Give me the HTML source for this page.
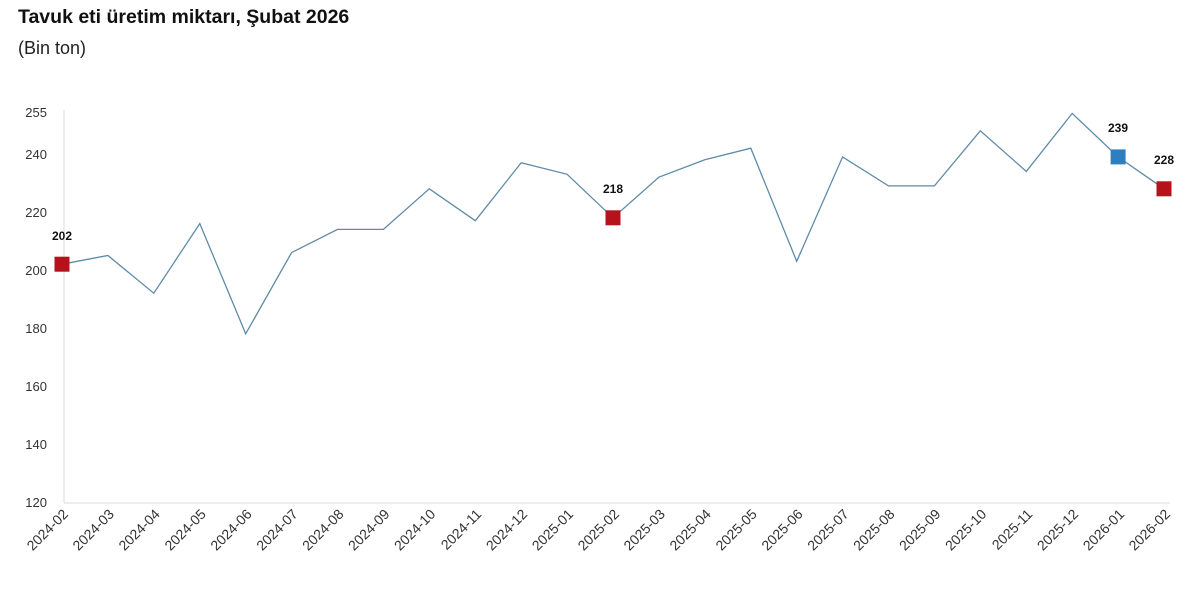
<!DOCTYPE html>
<html><head><meta charset="utf-8"><style>
body{margin:0;background:#fff;width:1200px;height:587px;overflow:hidden;font-family:"Liberation Sans",sans-serif}
</style></head><body>
<svg width="1200" height="587" xmlns="http://www.w3.org/2000/svg" font-family="Liberation Sans, sans-serif">
<text x="18" y="23" font-size="19.5" font-weight="bold" fill="#111">Tavuk eti üretim miktarı, Şubat 2026</text>
<text x="18" y="54" font-size="18" fill="#222">(Bin ton)</text>
<line x1="64" y1="110" x2="64" y2="503" stroke="#ddd"/>
<line x1="64" y1="503" x2="1170" y2="503" stroke="#ddd"/>
<g font-size="13" fill="#333" text-anchor="end">
<text x="47" y="117">255</text><text x="47" y="159">240</text><text x="47" y="217">220</text><text x="47" y="275">200</text><text x="47" y="333">180</text><text x="47" y="391">160</text><text x="47" y="449">140</text><text x="47" y="507">120</text>
</g>
<g font-size="14" fill="#333" text-anchor="end">
<text transform="translate(69,515) rotate(-45)">2024-02</text>
<text transform="translate(114.9,515) rotate(-45)">2024-03</text>
<text transform="translate(160.8,515) rotate(-45)">2024-04</text>
<text transform="translate(206.8,515) rotate(-45)">2024-05</text>
<text transform="translate(252.7,515) rotate(-45)">2024-06</text>
<text transform="translate(298.6,515) rotate(-45)">2024-07</text>
<text transform="translate(344.5,515) rotate(-45)">2024-08</text>
<text transform="translate(390.4,515) rotate(-45)">2024-09</text>
<text transform="translate(436.3,515) rotate(-45)">2024-10</text>
<text transform="translate(482.3,515) rotate(-45)">2024-11</text>
<text transform="translate(528.2,515) rotate(-45)">2024-12</text>
<text transform="translate(574.1,515) rotate(-45)">2025-01</text>
<text transform="translate(620,515) rotate(-45)">2025-02</text>
<text transform="translate(665.9,515) rotate(-45)">2025-03</text>
<text transform="translate(711.8,515) rotate(-45)">2025-04</text>
<text transform="translate(757.8,515) rotate(-45)">2025-05</text>
<text transform="translate(803.7,515) rotate(-45)">2025-06</text>
<text transform="translate(849.6,515) rotate(-45)">2025-07</text>
<text transform="translate(895.5,515) rotate(-45)">2025-08</text>
<text transform="translate(941.4,515) rotate(-45)">2025-09</text>
<text transform="translate(987.3,515) rotate(-45)">2025-10</text>
<text transform="translate(1033.3,515) rotate(-45)">2025-11</text>
<text transform="translate(1079.2,515) rotate(-45)">2025-12</text>
<text transform="translate(1125.1,515) rotate(-45)">2026-01</text>
<text transform="translate(1171,515) rotate(-45)">2026-02</text>
</g>
<polyline fill="none" stroke="#5f8ba6" stroke-width="1.3" points="62,264.2 107.9,255.5 153.8,293.2 199.8,223.6 245.7,333.8 291.6,252.6 337.5,229.4 383.4,229.4 429.3,188.8 475.3,220.7 521.2,162.7 567.1,174.3 613,217.8 658.9,177.2 704.8,159.8 750.8,148.2 796.7,261.3 842.6,156.9 888.5,185.9 934.4,185.9 980.3,130.8 1026.3,171.4 1072.2,113.4 1118.1,156.9 1164,188.8"/>
<rect x="54.5" y="256.7" width="15" height="15" fill="#b5121b"/>
<rect x="605.5" y="210.3" width="15" height="15" fill="#b5121b"/>
<rect x="1110.6" y="149.4" width="15" height="15" fill="#2e7fc0"/>
<rect x="1156.5" y="181.3" width="15" height="15" fill="#b5121b"/>
<g font-size="12" font-weight="bold" fill="#111" text-anchor="middle">
<text x="62" y="240">202</text>
<text x="613" y="193">218</text>
<text x="1118" y="132">239</text>
<text x="1164" y="164">228</text>
</g>
</svg>
</body></html>
